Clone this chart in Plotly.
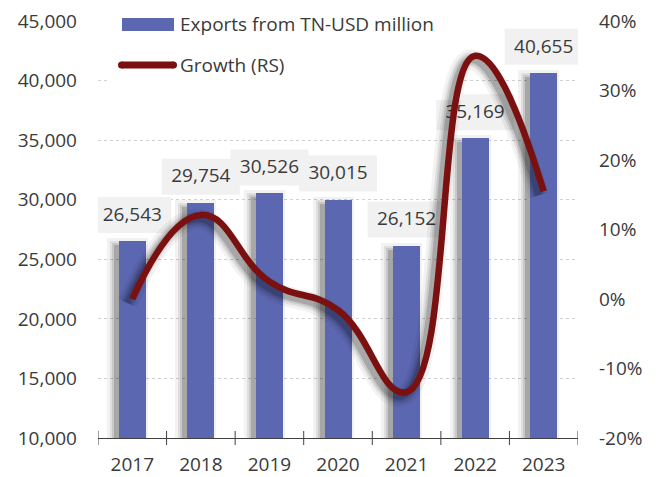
import plotly.graph_objects as go

# ---- data ----
years = ["2017", "2018", "2019", "2020", "2021", "2022", "2023"]
exports_usd_mn = [26543, 29754, 30526, 30015, 26152, 35169, 40655]
growth_pct = [0.0, 12.1, 2.5, -1.6, -13.4, 35.0, 15.5]
left_ticks = [10000, 15000, 20000, 25000, 30000, 35000, 40000, 45000]
right_ticks = [-20, -10, 0, 10, 20, 30, 40]

# ---- geometry / style ----
W, H = 660, 477
ML, MR, MT, MB = 98, 82, 21, 39
PW, PH = W - ML - MR, H - MT - MB
X_RANGE = (-0.5, len(years) - 0.5)
Y1_RANGE = (left_ticks[0], left_ticks[-1])
Y2_RANGE = (right_ticks[0], right_ticks[-1])
XPX = (X_RANGE[1] - X_RANGE[0]) / PW          # x units per pixel
Y1PX = (Y1_RANGE[1] - Y1_RANGE[0]) / PH       # left-axis units per pixel
Y2PX = (Y2_RANGE[1] - Y2_RANGE[0]) / PH       # right-axis units per pixel

BAR_COLOR = "#5B67B0"
LINE_COLOR = "#7A1010"
TEXT_COLOR = "#3A3A3A"
FONT = "Open Sans"
BAR_W_PX = 27
LINE_W = 6.5
SMOOTH = 1.3
SHADOW_DX, SHADOW_DY = -5, 4                   # shadow offset in pixels
SHADOW_LAYERS = [(7, 0.05), (4, 0.08), (2, 0.10), (0, 0.16)]

idx = list(range(len(years)))


def px_x(p):
    return (p - ML) / PW


def px_y(p):
    return (H - MB - p) / PH


fig = go.Figure()

# soft drop shadow behind the bars
for grow, alpha in SHADOW_LAYERS:
    fig.add_trace(go.Bar(
        x=[i + SHADOW_DX * XPX for i in idx],
        y=[v - SHADOW_DY * Y1PX + grow * Y1PX for v in exports_usd_mn],
        width=(BAR_W_PX + 2 * grow) * XPX,
        marker=dict(color=f"rgba(0,0,0,{alpha})", line=dict(width=0)),
        hoverinfo="skip", showlegend=False,
    ))

# export bars
fig.add_trace(go.Bar(
    x=idx, y=exports_usd_mn, width=BAR_W_PX * XPX,
    marker=dict(color=BAR_COLOR, line=dict(width=0)),
    name="Exports from TN-USD million", showlegend=False,
))

# value labels above the bars
fig.add_trace(go.Scatter(
    x=idx, y=[v + 25 * Y1PX for v in exports_usd_mn],
    mode="text", text=[f"{v:,}" for v in exports_usd_mn],
    textposition="middle center",
    textfont=dict(family=FONT, size=19, color=TEXT_COLOR),
    hoverinfo="skip", showlegend=False,
))

# soft shadow under the growth line
for grow, alpha in SHADOW_LAYERS:
    fig.add_trace(go.Scatter(
        x=[i + SHADOW_DX * XPX for i in idx],
        y=[g - SHADOW_DY * Y2PX for g in growth_pct],
        yaxis="y2", mode="lines",
        line=dict(color=f"rgba(0,0,0,{alpha})", width=LINE_W + 2 * grow,
                  shape="spline", smoothing=SMOOTH),
        hoverinfo="skip", showlegend=False,
    ))

# growth line on the right axis
fig.add_trace(go.Scatter(
    x=idx, y=growth_pct, yaxis="y2", mode="lines",
    line=dict(color=LINE_COLOR, width=LINE_W, shape="spline", smoothing=SMOOTH),
    name="Growth (RS)", showlegend=False,
))

shapes = []
# grey boxes behind value labels
for i, v in zip(idx, exports_usd_mn):
    shapes.append(dict(
        type="rect", xref="x", yref="y", layer="between",
        x0=i - 39 * XPX, x1=i + 39 * XPX,
        y0=v + 8 * Y1PX, y1=v + 44 * Y1PX,
        fillcolor="#F1F1F2", line=dict(width=0),
    ))

# white panel behind the legend
shapes.append(dict(
    type="rect", xref="x", yref="y", layer="between",
    x0=X_RANGE[0] + (110 - ML) * XPX, x1=X_RANGE[0] + (462 - ML) * XPX,
    y0=Y1_RANGE[1] - (100 - MT) * Y1PX, y1=Y1_RANGE[1] + 5 * Y1PX,
    fillcolor="white", line=dict(width=0),
))

# category boundary ticks crossing the x axis line
for b in range(len(years) + 1):
    xb = X_RANGE[0] + b
    shapes.append(dict(
        type="line", xref="x", yref="paper", layer="above",
        x0=xb, x1=xb, y0=px_y(445), y1=px_y(431),
        line=dict(color="#404040", width=1),
    ))

# legend symbols
shapes.append(dict(
    type="rect", xref="paper", yref="paper", layer="above",
    x0=px_x(122), x1=px_x(174), y0=px_y(31), y1=px_y(18),
    fillcolor=BAR_COLOR, line=dict(width=0),
))
shapes.append(dict(
    type="line", xref="paper", yref="paper", layer="above",
    x0=px_x(121.5), x1=px_x(173.5), y0=px_y(65), y1=px_y(65),
    line=dict(color=LINE_COLOR, width=7),
))
for cx in (121.5, 173.5):
    shapes.append(dict(
        type="circle", xref="paper", yref="paper", layer="above",
        x0=px_x(cx - 3.5), x1=px_x(cx + 3.5), y0=px_y(68.5), y1=px_y(61.5),
        fillcolor=LINE_COLOR, line=dict(width=0),
    ))

annotations = [
    dict(xref="paper", yref="paper", x=px_x(178), y=px_y(24),
         xanchor="left", yanchor="middle", showarrow=False,
         text="Exports from TN-USD million",
         font=dict(family=FONT, size=19, color=TEXT_COLOR)),
    dict(xref="paper", yref="paper", x=px_x(178), y=px_y(65),
         xanchor="left", yanchor="middle", showarrow=False,
         text="Growth (RS)",
         font=dict(family=FONT, size=19, color=TEXT_COLOR)),
]

tick_font = dict(family=FONT, size=19, color=TEXT_COLOR)

fig.update_layout(
    width=W, height=H,
    margin=dict(l=ML, r=MR, t=MT, b=MB, pad=0, autoexpand=False),
    paper_bgcolor="white", plot_bgcolor="white",
    barmode="overlay", bargap=0,
    showlegend=False,
    shapes=shapes, annotations=annotations,
    xaxis=dict(
        range=list(X_RANGE), tickmode="array", tickvals=idx, ticktext=years,
        ticks="", showgrid=False, zeroline=False, automargin=False,
        showline=True, linecolor="#404040", linewidth=1,
        tickfont=tick_font, ticklabelstandoff=9,
    ),
    yaxis=dict(
        range=list(Y1_RANGE), tickmode="array", tickvals=left_ticks,
        ticktext=[f"{t:,}" for t in left_ticks], automargin=False,
        showgrid=True, gridcolor="#D0D0D0", griddash="dot", gridwidth=1,
        zeroline=False, showline=False, ticks="",
        tickfont=tick_font, ticklabelstandoff=20,
    ),
    yaxis2=dict(
        range=list(Y2_RANGE), tickmode="array", tickvals=right_ticks,
        ticktext=[f"{t}%" for t in right_ticks], automargin=False,
        overlaying="y", side="right", showgrid=False, zeroline=False,
        showline=False, ticks="",
        tickfont=tick_font, ticklabelstandoff=20,
    ),
)

fig.write_html("out.html")
